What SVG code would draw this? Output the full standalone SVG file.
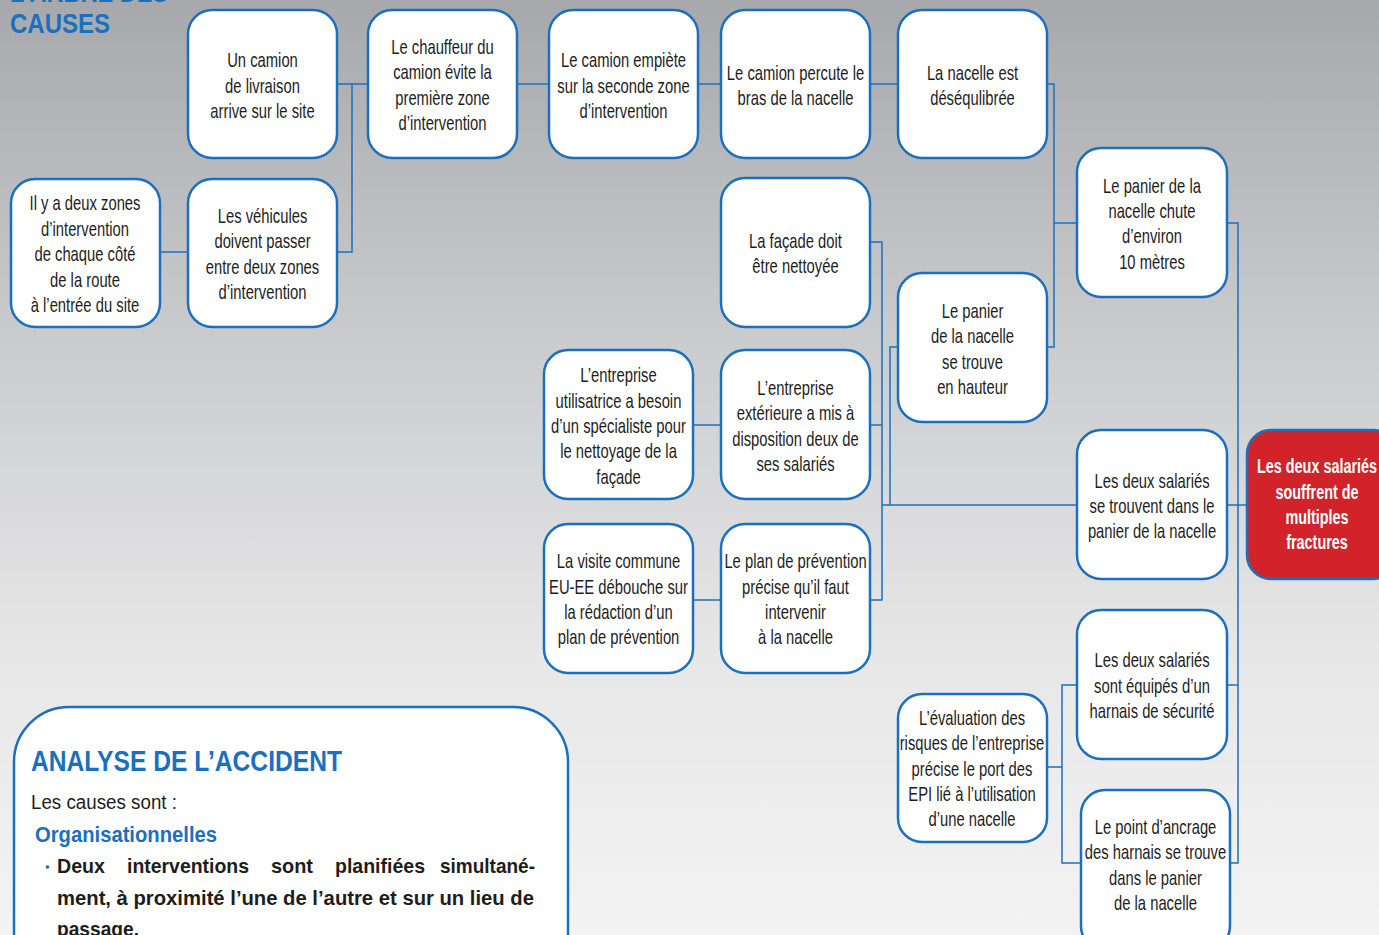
<svg xmlns="http://www.w3.org/2000/svg" width="1379" height="935" viewBox="0 0 1379 935">
<defs>
<linearGradient id="bg" x1="0" y1="0" x2="0" y2="1">
<stop offset="0" stop-color="#a7a8ab"/>
<stop offset="0.35" stop-color="#c9cacc"/>
<stop offset="0.7" stop-color="#e7e7e8"/>
<stop offset="1" stop-color="#f3f3f3"/>
</linearGradient>
</defs>
<style>
.box{fill:#fff;stroke:#1a6fbf;stroke-width:2.5}
.red{fill:#d2232a;stroke:#1a6fbf;stroke-width:2.5}
.lbl text{font-family:"Liberation Sans",Arial,sans-serif;font-size:20px;fill:#1d1d1b;text-anchor:middle}
.rl text{font-family:"Liberation Sans",Arial,sans-serif;font-size:20px;font-weight:bold;fill:#fff;text-anchor:middle}
.con path{fill:none;stroke:#1a6fbf;stroke-width:1.5}
.ttl{font-family:"Liberation Sans",Arial,sans-serif;font-weight:bold;fill:#1a6fbf}
.body{font-family:"Liberation Sans",Arial,sans-serif;fill:#1d1d1b}
</style>
<rect x="0" y="0" width="1379" height="935" fill="url(#bg)"/>

<g id="title">
<text class="ttl" x="10" y="2" font-size="27" textLength="158" lengthAdjust="spacingAndGlyphs">L’ARBRE DES</text>
<text class="ttl" x="10" y="33" font-size="28" textLength="100" lengthAdjust="spacingAndGlyphs">CAUSES</text>
</g>

<g id="connectors" class="con">
<path d="M337 84H368"/>
<path d="M352 84V252H337"/>
<path d="M160 252H188"/>
<path d="M517 84H549"/>
<path d="M698 84H721"/>
<path d="M870 84H898"/>
<path d="M1047 84H1054V347H1047"/>
<path d="M1054 223H1077"/>
<path d="M1227 223H1238V863H1230"/>
<path d="M1227 505H1247"/>
<path d="M1227 685H1238"/>
<path d="M870 242H882V600H870"/>
<path d="M870 425H882"/>
<path d="M882 505H1077"/>
<path d="M898 347H890V505"/>
<path d="M693 425H721"/>
<path d="M693 600H721"/>
<path d="M1077 685H1062V863H1081"/>
<path d="M1047 767H1062"/>
</g>

<g id="n-camion">
<rect class="box" x="188" y="10" width="149" height="148" rx="24"/>
<g class="lbl" transform="translate(262.5 0) scale(0.74 1)"><text y="67">Un camion</text><text y="93">de livraison</text><text y="118">arrive sur le site</text></g>
</g>
<g id="n-chauffeur">
<rect class="box" x="368" y="10" width="149" height="148" rx="24"/>
<g class="lbl" transform="translate(442.5 0) scale(0.74 1)"><text y="54">Le chauffeur du</text><text y="79">camion évite la</text><text y="105">première zone</text><text y="130">d’intervention</text></g>
</g>
<g id="n-empiete">
<rect class="box" x="549" y="10" width="149" height="148" rx="24"/>
<g class="lbl" transform="translate(623.5 0) scale(0.74 1)"><text y="67">Le camion empiète</text><text y="93">sur la seconde zone</text><text y="118">d’intervention</text></g>
</g>
<g id="n-percute">
<rect class="box" x="721" y="10" width="149" height="148" rx="24"/>
<g class="lbl" transform="translate(795.5 0) scale(0.74 1)"><text y="80">Le camion percute le</text><text y="105">bras de la nacelle</text></g>
</g>
<g id="n-desequilibre">
<rect class="box" x="898" y="10" width="149" height="148" rx="24"/>
<g class="lbl" transform="translate(972.5 0) scale(0.74 1)"><text y="80">La nacelle est</text><text y="105">déséqulibrée</text></g>
</g>
<g id="n-zones">
<rect class="box" x="11" y="179" width="149" height="148" rx="24"/>
<g class="lbl" transform="translate(85 0) scale(0.74 1)"><text y="210">Il y a deux zones</text><text y="236">d’intervention</text><text y="261">de chaque côté</text><text y="287">de la route</text><text y="312">à l’entrée du site</text></g>
</g>
<g id="n-vehicules">
<rect class="box" x="188" y="179" width="149" height="148" rx="24"/>
<g class="lbl" transform="translate(262.5 0) scale(0.74 1)"><text y="223">Les véhicules</text><text y="248">doivent passer</text><text y="274">entre deux zones</text><text y="299">d’intervention</text></g>
</g>
<g id="n-facade">
<rect class="box" x="721" y="178" width="149" height="149" rx="24"/>
<g class="lbl" transform="translate(795.5 0) scale(0.74 1)"><text y="248">La façade doit</text><text y="273">être nettoyée</text></g>
</g>
<g id="n-chute">
<rect class="box" x="1077" y="148" width="150" height="149" rx="24"/>
<g class="lbl" transform="translate(1152 0) scale(0.74 1)"><text y="193">Le panier de la</text><text y="218">nacelle chute</text><text y="243">d’environ</text><text y="269">10 mètres</text></g>
</g>
<g id="n-hauteur">
<rect class="box" x="898" y="273" width="149" height="149" rx="24"/>
<g class="lbl" transform="translate(972.5 0) scale(0.74 1)"><text y="318">Le panier</text><text y="343">de la nacelle</text><text y="369">se trouve</text><text y="394">en hauteur</text></g>
</g>
<g id="n-utilisatrice">
<rect class="box" x="544" y="350" width="149" height="149" rx="24"/>
<g class="lbl" transform="translate(618.5 0) scale(0.74 1)"><text y="382">L’entreprise</text><text y="408">utilisatrice a besoin</text><text y="433">d’un spécialiste pour</text><text y="458">le nettoyage de la</text><text y="484">façade</text></g>
</g>
<g id="n-exterieure">
<rect class="box" x="721" y="350" width="149" height="149" rx="24"/>
<g class="lbl" transform="translate(795.5 0) scale(0.74 1)"><text y="395">L’entreprise</text><text y="420">extérieure a mis à</text><text y="446">disposition deux de</text><text y="471">ses salariés</text></g>
</g>
<g id="n-panier">
<rect class="box" x="1077" y="430" width="150" height="149" rx="24"/>
<g class="lbl" transform="translate(1152 0) scale(0.74 1)"><text y="488">Les deux salariés</text><text y="513">se trouvent dans le</text><text y="538">panier de la nacelle</text></g>
</g>
<g id="n-fractures">
<rect class="red" x="1247" y="430" width="150" height="149" rx="24"/>
<g class="rl" transform="translate(1317 0) scale(0.72 1)"><text y="473">Les deux salariés</text><text y="499">souffrent de</text><text y="524">multiples</text><text y="549">fractures</text></g>
</g>
<g id="n-visite">
<rect class="box" x="544" y="524" width="149" height="149" rx="24"/>
<g class="lbl" transform="translate(618.5 0) scale(0.74 1)"><text y="568">La visite commune</text><text y="594">EU-EE débouche sur</text><text y="619">la rédaction d’un</text><text y="644">plan de prévention</text></g>
</g>
<g id="n-plan">
<rect class="box" x="721" y="524" width="149" height="149" rx="24"/>
<g class="lbl" transform="translate(795.5 0) scale(0.74 1)"><text y="568">Le plan de prévention</text><text y="594">précise qu’il faut</text><text y="619">intervenir</text><text y="644">à la nacelle</text></g>
</g>
<g id="n-harnais">
<rect class="box" x="1077" y="610" width="150" height="149" rx="24"/>
<g class="lbl" transform="translate(1152 0) scale(0.74 1)"><text y="667">Les deux salariés</text><text y="693">sont équipés d’un</text><text y="718">harnais de sécurité</text></g>
</g>
<g id="n-evaluation">
<rect class="box" x="898" y="694" width="149" height="148" rx="24"/>
<g class="lbl" transform="translate(972 0) scale(0.74 1)"><text y="725">L’évaluation des</text><text y="750">risques de l’entreprise</text><text y="776">précise le port des</text><text y="801">EPI lié à l’utilisation</text><text y="826">d’une nacelle</text></g>
</g>
<g id="n-ancrage">
<rect class="box" x="1081" y="790" width="149" height="160" rx="24"/>
<g class="lbl" transform="translate(1155.5 0) scale(0.74 1)"><text y="834">Le point d’ancrage</text><text y="859">des harnais se trouve</text><text y="885">dans le panier</text><text y="910">de la nacelle</text></g>
</g>

<g id="analyse">
<rect x="14" y="707" width="554" height="280" rx="55" fill="#fff" stroke="#1a6fbf" stroke-width="2.5"/>
<text class="ttl" x="31" y="771" font-size="29" textLength="311" lengthAdjust="spacingAndGlyphs">ANALYSE DE L’ACCIDENT</text>
<text class="body" x="31" y="809" font-size="20" textLength="146" lengthAdjust="spacingAndGlyphs">Les causes sont :</text>
<text class="ttl" x="35" y="842" font-size="22" textLength="182" lengthAdjust="spacingAndGlyphs">Organisationnelles</text>
<circle cx="47.5" cy="867" r="1.8" fill="#1a6fbf"/>
<g class="body" font-size="21" font-weight="bold">
<text x="57" y="873" textLength="48" lengthAdjust="spacingAndGlyphs">Deux</text>
<text x="127" y="873" textLength="122" lengthAdjust="spacingAndGlyphs">interventions</text>
<text x="271" y="873" textLength="42" lengthAdjust="spacingAndGlyphs">sont</text>
<text x="335" y="873" textLength="90" lengthAdjust="spacingAndGlyphs">planifiées</text>
<text x="440" y="873" textLength="95" lengthAdjust="spacingAndGlyphs">simultané-</text>
<text x="57" y="905" textLength="477" lengthAdjust="spacingAndGlyphs">ment, à proximité l’une de l’autre et sur un lieu de</text>
<text x="57" y="936" textLength="82" lengthAdjust="spacingAndGlyphs">passage.</text>
</g>
</g>
</svg>
